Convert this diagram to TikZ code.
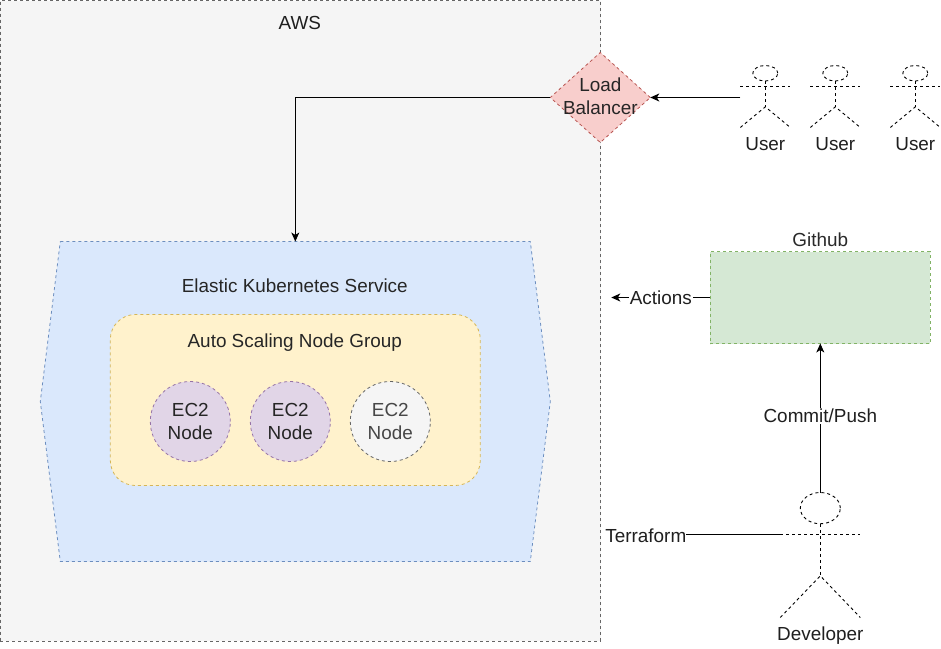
\documentclass[tikz,border=0pt]{standalone}
\usepackage{fontspec}
\setmainfont{Liberation Sans}
\usetikzlibrary{arrows.meta,shapes.geometric}
\definecolor{awsfill}{HTML}{F5F5F5}\definecolor{awsline}{HTML}{666666}
\definecolor{bluefill}{HTML}{DAE8FC}\definecolor{blueline}{HTML}{6C8EBF}
\definecolor{yelfill}{HTML}{FFF2CC}\definecolor{yelline}{HTML}{D6B656}
\definecolor{purfill}{HTML}{E1D5E7}\definecolor{purline}{HTML}{9673A6}
\definecolor{redfill}{HTML}{F8CECC}\definecolor{redline}{HTML}{B85450}
\definecolor{grnfill}{HTML}{D5E8D4}\definecolor{grnline}{HTML}{82B366}
\definecolor{softtext}{HTML}{333333}
\tikzset{
  box/.style={dash pattern=on 3pt off 3pt,line width=0.8pt,inner sep=0pt,outer sep=0pt},
  lbl/.style={inner sep=0pt,outer sep=0pt,align=center,text=softtext!60!black},
  conn/.style={line width=0.9pt,draw=black},
  arrowed/.style={conn,-{Stealth[length=9pt,width=8pt,inset=2.5pt]}},
  actorline/.style={line width=0.9pt,dash pattern=on 3pt off 3pt,draw=black},
  edgelbl/.style={fill=white,inner sep=1pt,text=softtext!60!black},
  ec2/.style={box,circle,minimum size=80pt,align=center}
}
\newcommand{\stickman}[6]{% name, left, top, width, height, label
  \pgfmathsetmacro{\cxx}{#2+#4/2}
  \pgfmathsetmacro{\rgt}{#2+#4}
  \pgfmathsetmacro{\bot}{#3+#5}
  \pgfmathsetmacro{\armsy}{#3+#5/3}
  \pgfmathsetmacro{\hipy}{#3+2*#5/3}
  \pgfmathsetmacro{\heady}{#3+#5/8}
  \node[ellipse,draw,actorline,inner sep=0pt,outer sep=0pt,minimum width=#4/2*1pt,minimum height=#5/4*1pt] (#1head) at (\cxx,\heady) {};
  \coordinate (#1armL) at (#2,\armsy);
  \coordinate (#1armR) at (\rgt,\armsy);
  \coordinate (#1hip) at (\cxx,\hipy);
  \coordinate (#1footL) at (#2,\bot);
  \coordinate (#1footR) at (\rgt,\bot);
  \draw[actorline] (#1head.south) -- (#1hip);
  \draw[actorline] (#1armL) -- (#1armR);
  \draw[actorline] (#1footL) -- (#1hip) -- (#1footR);
  \node[lbl,anchor=north] (#1label) at (\cxx,\bot+9.5) {#6};
}
\begin{document}
\begin{tikzpicture}[x=1pt,y=-1pt,font=\fontsize{18.9}{23}\selectfont]
\useasboundingbox (0,0) rectangle (941,648);
\fill[white] (0,0) rectangle (941,648);

\begin{scope}[xshift=0.3pt,yshift=-0.5pt]
\node[box,draw=awsline,fill=awsfill,rectangle,minimum width=600.2pt,minimum height=640.5pt,anchor=north west] (aws) at (0,0) {};
\node[lbl] (awstitle) at (299.5,22.5) {AWS};

% EKS hexagon
\draw[box,draw=blueline,fill=bluefill] (60,241) coordinate (eksTL) -- (530,241) -- (550,401) -- (530,561) -- (60,561) -- (40,401) -- cycle;
\coordinate (ekstop) at (295,241);
\node[lbl,text=black!85] (ekstitle) at (294.5,285.5) {Elastic Kubernetes Service};

% Auto scaling group
\node[box,draw=yelline,fill=yelfill,rectangle,rounded corners=25pt,minimum width=370pt,minimum height=171pt,anchor=north west] (asg) at (110,314) {};
\node[lbl,text=black!85] (asgtitle) at (294.5,342) {Auto Scaling Node Group};

\node[ec2,draw=purline,fill=purfill,text=black!85] (n1) at (190,421) {EC2\\Node};
\node[ec2,draw=purline,fill=purfill,text=black!85] (n2) at (290,421) {EC2\\Node};
\node[ec2,draw=awsline,fill=awsfill,text=softtext!90] (n3) at (390,421) {EC2\\Node};

% Load balancer
\node[box,draw=redline,fill=redfill,diamond,aspect=1.11,minimum width=100pt,minimum height=90pt,inner sep=0pt] (lb) at (600,97) {};
\node[lbl,text=black!85] (lbtext) at (600,96) {Load\\Balancer};

% Users
\stickman{ua}{740}{65}{50}{62}{User}
\stickman{ub}{810}{65}{50}{62}{User}
\stickman{uc}{890}{65}{50}{62}{User}
\coordinate (uaport) at (740,97);

% Github
\node[box,draw=grnline,fill=grnfill,rectangle,minimum width=220pt,minimum height=92pt,anchor=north west] (gh) at (710,251) {};
\node[lbl,text=softtext!80!black] (ghtitle) at (820,239) {Github};

% Developer
\stickman{dev}{780}{492}{80}{125}{Developer}

% Terraform label
\node[lbl] (tf) at (645.5,535) {Terraform};

% Connectors
\draw[arrowed] (uaport) -- (lb.east);
\draw[arrowed] (lb.west) -- (295,97) -- (ekstop);
\coordinate (awsgap) at (611,297);
\draw[arrowed] (gh.west |- awsgap) -- node[edgelbl,pos=0.5] (actions) {Actions} (awsgap);
\draw[arrowed] (devhead.north) -- node[edgelbl,pos=0.515] (commit) {Commit/Push} (gh.south);
\draw[conn] (tf.east |- devarmL) -- (devarmL);
\end{scope}
\end{tikzpicture}
\end{document}
